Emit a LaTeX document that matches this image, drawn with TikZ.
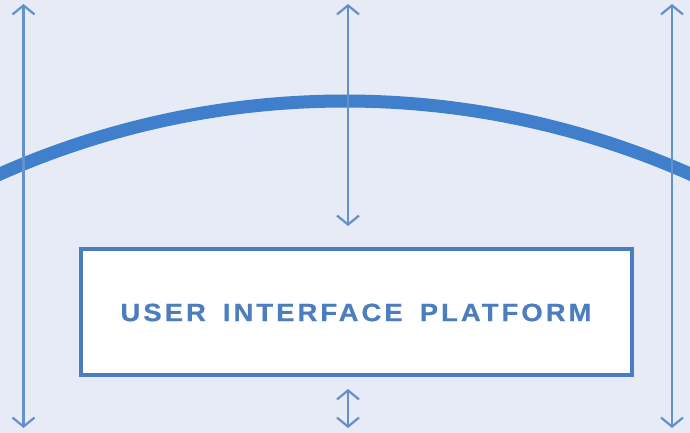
\documentclass[tikz,border=0pt]{standalone}
\usepackage{fontspec}
\setmainfont{Liberation Sans}
\newfontfamily\labelfont[LetterSpace=12,FakeStretch=1.1,WordSpace=1.6,FakeBold=0.6]{Liberation Sans Bold}
\usetikzlibrary{arrows.meta}
\definecolor{bgcol}{HTML}{E6EBF6}
\definecolor{arccol}{HTML}{3F7FCB}
\definecolor{linecol}{HTML}{6490CB}
\definecolor{boxcol}{HTML}{4A7DC0}
\definecolor{textcol}{HTML}{4C7EBF}
\tikzset{
  guide/.style={draw=linecol, line width=2.2pt,
    {Straight Barb[length=9pt,width=22pt,line width=2.2pt]}-{Straight Barb[length=9pt,width=22pt,line width=2.2pt]}},
  platform/.style={draw=boxcol, line width=4pt, fill=white, minimum width=551pt,
    minimum height=126pt, inner sep=0pt},
  caption/.style={text=textcol, inner sep=0pt, font=\labelfont\fontsize{25}{25}\selectfont}
}
\begin{document}
\begin{tikzpicture}[x=1pt,y=-1pt]
  \fill[bgcol] (0,0) rectangle (690,433);
  \useasboundingbox (0,0) rectangle (690,433);
  % curved horizon
  \begin{scope}
    \clip (0,0) rectangle (690,433);
    \draw[arccol, line width=13pt] (345,953) ++(-118:852) arc[start angle=-118, end angle=-62, radius=852];
  \end{scope}
  % platform box and its caption
  \node[platform] (ui) at (356.5,312) {};
  \node[caption] (uitext) at (356,312.5) {USER INTERFACE PLATFORM};
  % guide arrows
  \coordinate (lt) at (23.5,4);  \coordinate (lb) at (23.5,428);
  \coordinate (rt) at (672,4);   \coordinate (rb) at (672,428);
  \coordinate (mt) at (348,4);   \coordinate (mb) at (348,226);
  \coordinate (st) at (348,389); \coordinate (sb) at (348,428);
  \draw[guide] (lt) -- (lb);
  \draw[guide] (rt) -- (rb);
  \draw[guide] (mt) -- (mb);
  \draw[guide] (st) -- (sb);
\end{tikzpicture}
\end{document}
